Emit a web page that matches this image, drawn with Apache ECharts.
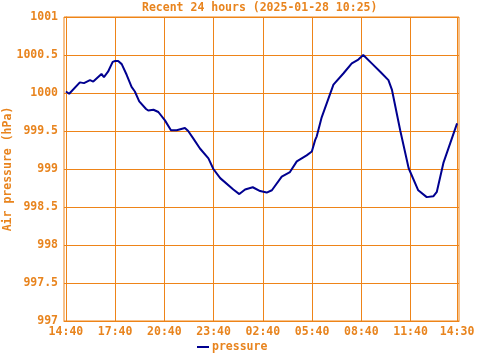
<!DOCTYPE html>
<html><head><meta charset="utf-8">
<script src="https://cdn.jsdelivr.net/npm/echarts@6/dist/echarts.min.js"></script>
<style>html,body{margin:0;padding:0;background:#fff}#c{width:480px;height:360px}</style>
</head><body><div id="c"></div>
<script>
// minutes since 14:40 on 2025-01-27
const minutes = [0,12,51,66,88,100,130,139,154,171,180,191,204,222,240,252,268,293,301,320,338,362,384,405,435,447,466,490,521,539,564,612,634,655,683,710,734,753,789,819,844,880,899,911,917,935,978,1015,1045,1069,1087,1118,1149,1179,1192,1222,1253,1288,1319,1343,1356,1380,1405,1430];
const pressure = [1000.02,999.99,1000.14,1000.13,1000.17,1000.15,1000.25,1000.21,1000.28,1000.41,1000.42,1000.42,1000.38,1000.24,1000.08,1000.02,999.89,999.79,999.77,999.78,999.75,999.64,999.51,999.51,999.54,999.50,999.40,999.27,999.14,999.00,998.88,998.73,998.67,998.73,998.76,998.71,998.69,998.72,998.90,998.96,999.10,999.18,999.23,999.38,999.43,999.68,1000.11,1000.26,1000.39,1000.44,1000.50,1000.39,1000.28,1000.17,1000.04,999.51,999.01,998.72,998.63,998.64,998.70,999.08,999.34,999.60];
const tickMinutes = [0,180,360,540,720,900,1080,1260,1430];
const tickLabels = ['14:40','17:40','20:40','23:40','02:40','05:40','08:40','11:40','14:30'];
const titleText = 'Recent 24 hours (2025-01-28 10:25)';
const yName = 'Air pressure (hPa)';
const seriesName = 'pressure';

const orange = '#ee8418';
const textOrange = '#e8841e';
const font = 'DejaVu Sans Mono';
const chart = echarts.init(document.getElementById('c'), null, {renderer:'canvas'});
chart.setOption({
  animation:false,
  backgroundColor:'#fff',
  title:{text:titleText,left:142,top:0,padding:[2,0,0,0],textStyle:{color:textOrange,fontFamily:font,fontSize:11.5,fontWeight:'bold'}},
  grid:{left:64,right:21,top:17,bottom:39,show:true,borderColor:orange,borderWidth:1,containLabel:false,outerBoundsMode:'none'},
  legend:{data:[seriesName],bottom:2,left:192,icon:'rect',itemWidth:12,itemHeight:2,itemGap:4,
    textStyle:{color:textOrange,fontFamily:font,fontSize:11.5,fontWeight:'bold',padding:[0,0,0,-2]}},
  xAxis:{type:'value',min:-7,max:1437,
    axisLine:{lineStyle:{color:orange}},
    axisTick:{show:false,customValues:tickMinutes},
    axisLabel:{customValues:tickMinutes,color:textOrange,fontFamily:font,fontSize:11.5,fontWeight:'bold',margin:5,
      formatter:v=>{const i=tickMinutes.indexOf(v);return i>=0?tickLabels[i]:'';}},
    splitLine:{show:true,lineStyle:{color:orange,width:1}}},
  yAxis:{type:'value',min:997,max:1001,interval:0.5,name:yName,nameLocation:'middle',nameGap:50,nameMoveOverlap:false,
    nameTextStyle:{color:textOrange,fontFamily:font,fontSize:11.5,fontWeight:'bold'},
    axisLine:{show:true,lineStyle:{color:orange}},axisTick:{show:false},
    axisLabel:{color:textOrange,fontFamily:font,fontSize:11.5,fontWeight:'bold',margin:6,formatter:v=>String(v)},
    splitLine:{show:true,lineStyle:{color:orange,width:1}}},
  series:[{name:seriesName,type:'line',showSymbol:false,data:minutes.map((m,i)=>[m,pressure[i]]),
    lineStyle:{color:'#000090',width:2},itemStyle:{color:'#000090'}}]
});
</script></body></html>
